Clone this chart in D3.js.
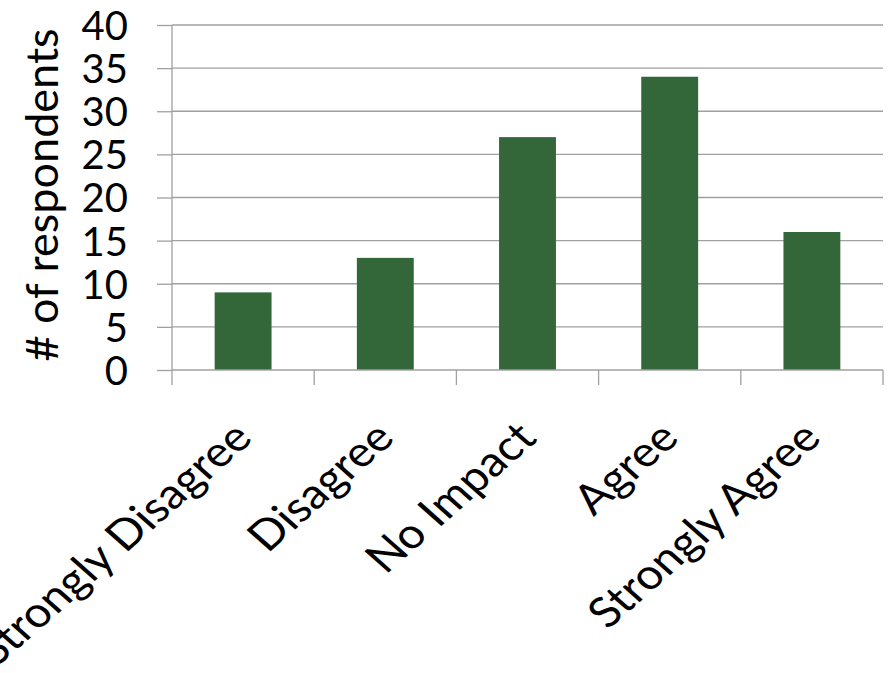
<!DOCTYPE html>
<html>
<head>
<meta charset="utf-8">
<script src="https://cdn.jsdelivr.net/npm/d3@7"></script>
<style>
  html, body { margin: 0; padding: 0; background: #fff; }
  svg { display: block; }
  text { font-family: Lato, "Open Sans", sans-serif; fill: #000; }
</style>
</head>
<body>
<svg id="chart" width="894" height="673"></svg>
<script>
const categories = ["Strongly Disagree", "Disagree", "No Impact", "Agree", "Strongly Agree"];
const values = [9, 13, 27, 34, 16];
const yTicks = [0, 5, 10, 15, 20, 25, 30, 35, 40];
const yTitle = "# of respondents";

const svg = d3.select("#chart");
const mLeft = 172, mRight = 883, mTop = 25, mBottom = 370;
const gridColor = "#a0a0a0";
const barColor = "#336639";
const sx = 1.13;

const x = d3.scaleBand().domain(categories).range([mLeft, mRight]).paddingInner(0.6).paddingOuter(0.3);
const y = d3.scaleLinear().domain([0, 40]).range([mBottom, mTop]);

// gridlines
svg.append("g").selectAll("line").data(yTicks.filter(d => d !== 0)).join("line")
  .attr("x1", mLeft).attr("x2", mRight)
  .attr("y1", d => y(d)).attr("y2", d => y(d))
  .attr("stroke", gridColor).attr("stroke-width", 1.3);

// bars
svg.append("g").selectAll("rect").data(values).join("rect")
  .attr("x", (d, i) => x(categories[i]))
  .attr("width", x.bandwidth())
  .attr("y", d => y(d))
  .attr("height", d => y(0) - y(d))
  .attr("fill", barColor);

// y axis
const yAxis = d3.axisLeft(y).tickValues(yTicks).tickSize(15).tickPadding(0).tickFormat(d3.format("d"));
const gy = svg.append("g").attr("transform", `translate(${mLeft},0)`).call(yAxis);
gy.select(".domain").attr("stroke", gridColor).attr("stroke-width", 1.3).attr("d", `M0,${mTop}V${mBottom}`);
gy.selectAll(".tick line").attr("stroke", gridColor).attr("stroke-width", 1.3);
gy.selectAll(".tick text")
  .attr("x", -44).attr("dy", "0.36em")
  .style("font-size", "40px").style("font-family", "Lato, 'Open Sans', sans-serif").attr("fill", "#000");

// x axis line
svg.append("line").attr("x1", mLeft).attr("x2", mRight).attr("y1", mBottom).attr("y2", mBottom)
  .attr("stroke", gridColor).attr("stroke-width", 1.3);
// x ticks at band boundaries
const bounds = d3.range(categories.length + 1).map(i => mLeft + i * x.step());
svg.append("g").selectAll("line").data(bounds).join("line")
  .attr("x1", d => d).attr("x2", d => d).attr("y1", mBottom).attr("y2", mBottom + 15)
  .attr("stroke", gridColor).attr("stroke-width", 1.3);

// x labels
svg.append("g").selectAll("text").data(categories).join("text")
  .attr("transform", d => `translate(${x(d) + x.bandwidth() / 2 + 11},440) scale(${sx},1) rotate(-45)`)
  .attr("text-anchor", "end")
  .style("font-size", "42px")
  .text(d => d);

// y title
svg.append("text")
  .attr("transform", `translate(58,195) rotate(-90)`)
  .attr("text-anchor", "middle")
  .style("font-size", "45px")
  .text(yTitle);
</script>
</body>
</html>
